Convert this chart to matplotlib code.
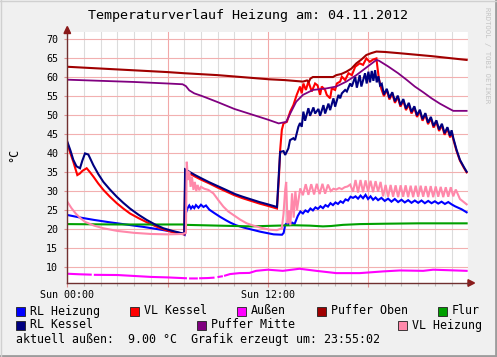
"""RRDtool-style heating temperature chart for 04.11.2012."""

import numpy as np
import matplotlib

matplotlib.use("Agg")
import matplotlib.pyplot as plt
from matplotlib.lines import Line2D
from matplotlib.patches import Polygon, Rectangle

W, H = 497, 357
MONO = "DejaVu Sans Mono"

# --- data (hours since Sun 00:00, degrees C) -------------------------------
rl_heizung_h = [0.0, 0.8, 1.6, 2.5, 3.5, 4.5, 5.5, 6.3, 6.9, 7.02, 7.08, 7.2, 7.3, 7.4, 7.5,
                7.6, 7.7, 7.85, 8.0, 8.15, 8.3, 8.5, 8.8, 9.15, 9.5, 9.75, 10.1, 10.55, 11.0,
                11.55, 12.0, 12.35, 12.85, 12.95, 13.04, 13.15, 13.3, 13.45, 13.6, 13.8, 13.95,
                14.1, 14.25, 14.4, 14.55, 14.7, 14.85, 15.0, 15.15, 15.3, 15.45, 15.6, 15.75,
                15.9, 16.05, 16.2, 16.35, 16.5, 16.65, 16.8, 16.95, 17.1, 17.25, 17.4, 17.55,
                17.7, 17.85, 18.0, 18.15, 18.3, 18.45, 18.6, 18.8, 19.0, 19.2, 19.4, 19.6, 19.8,
                20.0, 20.2, 20.4, 20.6, 20.8, 21.0, 21.2, 21.4, 21.6, 21.8, 22.0, 22.2, 22.4,
                22.6, 22.8, 23.0, 23.2, 23.4, 23.6, 23.9]
rl_heizung_v = [23.7, 23.0, 22.4, 21.8, 21.2, 20.6, 19.9, 19.3, 18.8, 18.5, 24.0, 25.5, 26.2,
                25.4, 26.0, 25.5, 26.3, 25.6, 26.4, 25.8, 26.2, 25.1, 24.2, 23.2, 22.3, 21.7,
                21.0, 20.4, 19.9, 19.3, 18.9, 18.6, 18.5, 19.0, 21.1, 21.6, 21.1, 21.7, 21.3,
                23.5, 24.6, 24.1, 24.9, 24.5, 25.4, 24.9, 25.7, 25.3, 26.0, 25.5, 26.3, 25.9,
                26.8, 26.3, 27.0, 26.6, 27.3, 26.9, 27.8, 27.5, 28.5, 28.2, 28.6, 28.0, 28.8,
                28.1, 29.0, 27.9, 28.6, 27.7, 28.3, 27.6, 28.2, 27.4, 28.0, 27.2, 27.9, 27.1,
                27.7, 27.0, 27.6, 26.9, 27.5, 26.9, 27.5, 26.8, 27.4, 26.8, 27.3, 26.7, 27.2,
                26.6, 27.1, 26.5, 26.0, 25.6, 25.2, 24.4]

vl_kessel_h = [0.0, 0.18, 0.36, 0.6, 0.75, 0.9, 1.16, 1.35, 1.56, 1.85, 2.16, 2.55, 2.96, 3.35,
               3.75, 4.25, 4.75, 5.25, 5.75, 6.3, 6.85, 7.0, 7.06, 7.15, 7.65, 8.0, 8.5, 9.0,
               9.5, 10.0, 10.5, 11.0, 11.5, 12.0, 12.55, 12.66, 12.74, 12.84, 12.94, 13.14,
               13.34, 13.53, 13.73, 13.93, 14.03, 14.13, 14.28, 14.43, 14.63, 14.83, 14.98,
               15.13, 15.23, 15.43, 15.53, 15.73, 15.83, 16.03, 16.13, 16.33, 16.43, 16.63,
               16.83, 17.03, 17.23, 17.5, 17.7, 17.9, 18.1, 18.3, 18.5, 18.55, 18.65, 18.8,
               18.95, 19.12, 19.28, 19.45, 19.61, 19.78, 19.94, 20.11, 20.27, 20.44, 20.6,
               20.77, 20.93, 21.1, 21.26, 21.43, 21.59, 21.76, 21.92, 22.09, 22.25, 22.42,
               22.58, 22.75, 22.91, 23.0, 23.1, 23.3, 23.5, 23.75, 23.9]
vl_kessel_v = [42.6, 40.0, 37.7, 34.2, 34.6, 35.3, 36.0, 35.0, 33.8, 32.0, 30.3, 28.5, 26.8,
               25.4, 24.1, 22.9, 21.8, 20.8, 19.9, 19.2, 18.7, 18.6, 34.5, 35.0, 33.8, 33.0,
               32.0, 30.9, 29.9, 28.9, 28.1, 27.4, 26.7, 26.1, 25.4, 33.0, 40.8, 46.1, 47.8,
               48.2, 50.9, 52.6, 55.3, 57.5, 55.7, 58.3, 56.6, 58.8, 56.2, 58.3, 57.8, 55.3,
               57.5, 56.6, 55.3, 54.4, 57.0, 56.6, 58.3, 58.8, 60.1, 59.2, 61.0, 60.5, 62.7,
               63.6, 63.2, 64.9, 64.0, 64.6, 64.9, 63.0, 59.5, 56.8, 55.0, 56.6, 54.1, 55.6,
               53.2, 54.7, 52.2, 53.8, 51.3, 52.8, 50.4, 51.9, 49.5, 51.0, 48.5, 50.1, 47.6,
               49.1, 46.7, 48.2, 45.8, 47.3, 44.8, 46.4, 44.1, 45.6, 43.6, 40.5, 38.0, 36.0,
               34.9]

aussen_h = [0.0, 0.7, 1.4, np.nan, 1.65, 3.0, 4.0, 5.0, 6.0, 6.6, 7.1, np.nan, 7.35, 7.75,
            np.nan, 7.95, 8.4, 8.75, np.nan, 9.05, 9.25, np.nan, 9.44, 9.74, 10.3, 10.9, 11.3,
            12.0, 12.9, 13.9, 14.9, 16.1, 17.5, 18.9, 19.9, 21.3, 21.9, 23.9]
aussen_v = [8.24, 8.1, 8.0, np.nan, 7.95, 7.9, 7.65, 7.4, 7.27, 7.15, 7.05, np.nan, 7.0, 7.0,
            np.nan, 7.05, 7.1, 7.2, np.nan, 7.4, 7.55, np.nan, 7.75, 8.15, 8.4, 8.45, 9.0,
            9.3, 9.0, 9.55, 9.0, 8.4, 8.4, 8.85, 9.1, 9.0, 9.3, 9.0]

puffer_oben_h = [0.0, 3.0, 6.0, 7.0, 9.0, 12.1, 13.0, 14.1, 14.35, 14.45, 14.55, 14.7, 15.9,
                 16.1, 16.4, 16.7, 17.0, 17.3, 17.6, 17.9, 18.2, 18.5, 19.0, 19.8, 21.8, 23.9]
puffer_oben_v = [62.7, 62.0, 61.3, 61.0, 60.5, 59.4, 59.2, 58.8, 59.1, 58.7, 59.6, 60.0, 60.0,
                 60.5, 60.8, 61.4, 62.2, 63.6, 64.6, 65.8, 66.3, 66.7, 66.6, 66.3, 65.5, 64.5]

flur_h = [0.0, 3.0, 6.9, 7.1, 9.0, 11.0, 12.6, 13.5, 14.5, 15.3, 15.8, 16.5, 17.5, 19.0, 21.0,
          23.9]
flur_v = [21.3, 21.2, 21.2, 21.1, 20.9, 20.7, 20.9, 21.0, 20.9, 20.7, 20.8, 21.1, 21.3, 21.4,
          21.5, 21.5]

rl_kessel_h = [0.0, 0.2, 0.36, 0.55, 0.76, 0.9, 1.06, 1.26, 1.56, 1.85, 2.16, 2.55, 2.96, 3.35,
               3.75, 4.25, 4.75, 5.25, 5.75, 6.3, 6.85, 7.0, 7.05, 7.65, 8.0, 8.5, 9.0, 9.5,
               10.04, 10.5, 11.0, 11.5, 12.0, 12.55, 12.64, 12.74, 12.94, 13.04, 13.23, 13.33,
               13.53, 13.63, 13.83, 13.93, 14.03, 14.13, 14.23, 14.43, 14.53, 14.73, 14.83,
               15.03, 15.13, 15.33, 15.43, 15.63, 15.73, 15.93, 16.03, 16.23, 16.33, 16.43,
               16.63, 16.73, 16.93, 17.03, 17.23, 17.33, 17.5, 17.6, 17.82, 17.92, 18.02,
               18.12, 18.22, 18.32, 18.42, 18.52, 18.62, 18.72, 18.82, 18.95, 19.12, 19.28,
               19.45, 19.61, 19.78, 19.94, 20.11, 20.27, 20.44, 20.6, 20.77, 20.93, 21.1,
               21.26, 21.43, 21.59, 21.76, 21.92, 22.09, 22.25, 22.42, 22.58, 22.75, 22.91,
               23.0, 23.1, 23.3, 23.5, 23.75, 23.9]
rl_kessel_v = [43.0, 40.5, 38.2, 36.5, 36.0, 38.0, 39.9, 39.6, 36.8, 34.5, 32.4, 30.4, 28.5,
               26.9, 25.4, 23.8, 22.4, 21.2, 20.2, 19.5, 18.9, 18.8, 35.7, 34.2, 33.4, 32.3,
               31.3, 30.3, 29.2, 28.5, 27.8, 27.1, 26.5, 25.8, 33.0, 40.3, 40.5, 39.5, 41.2,
               43.4, 43.9, 43.4, 46.9, 47.9, 46.9, 50.9, 48.5, 51.8, 49.8, 52.0, 50.4, 51.6,
               49.8, 52.6, 50.4, 53.0, 51.3, 54.4, 52.2, 55.3, 54.4, 55.7, 56.6, 56.2, 58.3,
               57.5, 60.1, 57.2, 60.5, 57.5, 61.0, 58.3, 61.4, 58.6, 61.6, 59.0, 61.8, 58.6,
               60.2, 57.8, 58.2, 55.4, 56.9, 54.5, 56.0, 53.6, 55.1, 52.6, 54.2, 51.7, 53.2,
               50.8, 52.3, 49.9, 51.4, 48.9, 50.5, 48.0, 49.5, 47.1, 48.6, 46.2, 47.7, 45.2,
               46.8, 44.5, 46.0, 44.0, 40.8, 38.2, 36.2, 35.1]

puffer_mitte_h = [0.0, 2.0, 4.0, 6.0, 6.9, 7.1, 7.3, 7.6, 8.0, 8.3, 9.0, 10.0, 11.0, 12.0,
                  12.65, 13.1, 13.4, 13.7, 14.1, 14.7, 15.5, 16.1, 16.7, 17.3, 17.9, 18.5,
                  18.65, 19.2, 19.8, 20.3, 20.8, 21.3, 21.8, 22.3, 22.8, 23.1, 23.9]
puffer_mitte_v = [59.3, 59.0, 58.7, 58.3, 58.1, 57.6, 56.5, 55.7, 55.1, 54.6, 53.4, 51.6, 50.2,
                  48.8, 47.8, 48.2, 50.9, 53.5, 55.3, 56.6, 57.0, 57.5, 58.8, 60.5, 62.5, 64.5,
                  64.3, 62.8, 61.0, 59.3, 57.5, 56.0, 54.4, 53.0, 51.8, 51.1, 51.1]

vl_heizung_h = [0.0, 0.25, 0.5, 0.8, 1.06, 1.6, 2.16, 3.0, 4.0, 5.0, 6.0, 6.9, 7.1, 7.15, 7.22,
                7.3, 7.38, 7.46, 7.55, 7.63, 7.72, 7.8, 7.9, 8.0, 8.2, 8.44, 8.74, 9.04, 9.34,
                9.64, 9.94, 10.34, 10.74, 11.14, 11.54, 12.14, 12.54, 12.84, 12.94, 13.04,
                13.1, 13.18, 13.26, 13.35, 13.45, 13.55, 13.65, 13.75, 13.94, 14.1, 14.27,
                14.43, 14.6, 14.77, 14.93, 15.1, 15.27, 15.43, 15.6, 15.77, 15.93, 16.1, 16.27,
                16.43, 16.6, 16.77, 16.93, 17.1, 17.25, 17.4, 17.55, 17.7, 17.85, 18.0, 18.15,
                18.3, 18.45, 18.6, 18.75, 18.9, 19.05, 19.2, 19.35, 19.5, 19.65, 19.8, 19.95,
                20.1, 20.25, 20.4, 20.55, 20.7, 20.85, 21.0, 21.15, 21.3, 21.45, 21.6, 21.75,
                21.9, 22.05, 22.2, 22.35, 22.5, 22.65, 22.8, 22.95, 23.1, 23.25, 23.5, 23.7,
                23.9]
vl_heizung_v = [27.2, 25.5, 24.1, 22.8, 21.9, 20.9, 20.2, 19.5, 19.0, 18.7, 18.6, 18.7, 19.0,
                37.7, 32.9, 35.1, 31.1, 33.8, 30.3, 32.4, 30.0, 31.6, 30.2, 31.1, 30.6, 30.3,
                29.4, 27.6, 25.9, 24.6, 23.7, 22.5, 21.5, 20.9, 20.4, 19.8, 19.7, 20.2, 24.0,
                30.3, 32.4, 21.5, 24.9, 21.0, 29.4, 23.0, 30.0, 25.0, 30.7, 28.9, 31.8, 29.0,
                31.8, 29.1, 31.9, 29.2, 31.9, 29.3, 31.7, 30.0, 30.6, 30.4, 30.8, 30.5, 31.0,
                31.2, 31.7, 29.8, 32.9, 29.6, 32.9, 29.7, 32.8, 29.8, 32.7, 29.7, 32.6, 29.8,
                32.4, 28.6, 31.6, 28.5, 31.6, 28.5, 31.5, 28.4, 31.5, 28.5, 31.5, 28.4, 31.4,
                28.4, 31.4, 28.5, 31.4, 28.5, 31.3, 28.4, 31.3, 28.4, 31.2, 28.5, 31.1, 28.4,
                31.0, 28.5, 31.0, 28.6, 30.4, 27.9, 27.2, 26.5]

# legend order == drawing order (later ones end up on top)
SERIES = [
    ("RL Heizung", "#0000FF", rl_heizung_h, rl_heizung_v),
    ("VL Kessel", "#FF0000", vl_kessel_h, vl_kessel_v),
    ("Außen", "#FF00FF", aussen_h, aussen_v),
    ("Puffer Oben", "#A00000", puffer_oben_h, puffer_oben_v),
    ("Flur", "#00A000", flur_h, flur_v),
    ("RL Kessel", "#000080", rl_kessel_h, rl_kessel_v),
    ("Puffer Mitte", "#800080", puffer_mitte_h, puffer_mitte_v),
    ("VL Heizung", "#FF88AA", vl_heizung_h, vl_heizung_v),
]

# legend slots in pixel coords (box left x, row centre y)
LEGEND_POS = [(16, 311), (130, 311), (237, 311), (317, 311), (438, 311),
              (16, 325), (197, 325), (398, 325)]

Y_TICKS = list(range(10, 75, 5))
X_MAJOR = [0, 6, 12, 18]
X_LABELS = ["Sun 00:00", "", "Sun 12:00", ""]
X_MINOR = list(range(0, 25))

TITLE = "Temperaturverlauf Heizung am: 04.11.2012"
FOOTER = "aktuell außen:  9.00 °C  Grafik erzeugt um: 23:55:02"


def fx(px):
    return px / W


def fy(py):
    return 1 - py / H


def main():
    fig = plt.figure(figsize=(W / 100, H / 100), dpi=100, facecolor="#F0F0F0")
    ax = fig.add_axes([fx(67.3), fy(283), 401 / W, 251 / H])
    ax.set_facecolor("white")

    ax.set_xlim(0, 24)
    ax.set_ylim(5.8, 71.85)

    # grid
    for h in X_MINOR:
        if h not in X_MAJOR:
            ax.axvline(h, color="#DCDCDC", lw=0.8, zorder=0)
    for h in X_MAJOR:
        ax.axvline(h, color="#F2A8A8", lw=0.8, zorder=0.5)
    for v in Y_TICKS:
        ax.axhline(v, color="#F2B0B0", lw=0.8, zorder=0.5)

    for name, color, hours, values in SERIES:
        lw = 1.3 if name == "Puffer Mitte" else 1.5
        ax.plot(hours, values, color=color, lw=lw, solid_joinstyle="miter", zorder=2)

    ax.set_yticks(Y_TICKS)
    ax.set_yticklabels([str(v) for v in Y_TICKS], fontfamily=MONO, fontsize=7.2)
    ax.set_xticks(X_MAJOR)
    ax.set_xticklabels(X_LABELS, fontfamily=MONO, fontsize=7.2)
    ax.set_xticks(X_MINOR, minor=True)
    ax.tick_params(axis="y", length=2.5, width=0.8, color="#E09090", pad=4)
    ax.tick_params(axis="x", which="major", length=3, width=0.8, color="#E09090", pad=2)
    ax.tick_params(axis="x", which="minor", length=2, width=0.8, color="#BBBBBB")

    for side in ("top", "right"):
        ax.spines[side].set_visible(False)
    for side in ("left", "bottom"):
        ax.spines[side].set_color("#703030")
        ax.spines[side].set_linewidth(1.0)

    # axis arrows
    fig.add_artist(Polygon([(fx(64), fy(33.5)), (fx(70.6), fy(33.5)), (fx(67.3), fy(26.5))],
                           closed=True, transform=fig.transFigure, color="#8B1A1A"))
    fig.add_artist(Line2D([fx(467), fx(469)], [fy(283), fy(283)], color="#703030", lw=1.0))
    fig.add_artist(Polygon([(fx(468), fy(279.7)), (fx(468), fy(286.3)), (fx(474.5), fy(283))],
                           closed=True, transform=fig.transFigure, color="#8B1A1A"))

    fig.text(fx(248.5), fy(16), TITLE, family=MONO, fontsize=9.6, ha="center", va="center")
    fig.text(fx(14), fy(155), "°C", fontsize=8.5, rotation=90, ha="center", va="center",
             family=MONO)
    fig.text(fx(487.5), fy(7), "RRDTOOL / TOBI OETIKER", family=MONO, fontsize=5.2,
             rotation=270, ha="center", va="top", color="#C4C4C4")

    # legend
    for (name, color, _, _), (lx, ly) in zip(SERIES, LEGEND_POS):
        fig.add_artist(Rectangle((fx(lx), fy(ly + 4.5)), 9 / W, 9 / H,
                                 transform=fig.transFigure, facecolor=color,
                                 edgecolor="#202020", lw=0.6))
        fig.text(fx(lx + 14), fy(ly), name, family=MONO, fontsize=8.4, va="center")
    fig.text(fx(16), fy(339), FOOTER, family=MONO, fontsize=8.4, va="center")

    # frame shading
    fig.add_artist(Line2D([fx(495.5), fx(495.5)], [0, 1], color="#9C9C9C", lw=2.0))
    fig.add_artist(Line2D([0, 1], [fy(355.5), fy(355.5)], color="#9C9C9C", lw=2.0))
    fig.add_artist(Line2D([fx(0.5), fx(0.5)], [0, 1], color="#D0D0D0", lw=1.0))
    fig.add_artist(Line2D([0, 1], [fy(0.5), fy(0.5)], color="#D0D0D0", lw=1.0))

    fig.savefig("out.png", dpi=100, facecolor=fig.get_facecolor())


if __name__ == "__main__":
    main()
